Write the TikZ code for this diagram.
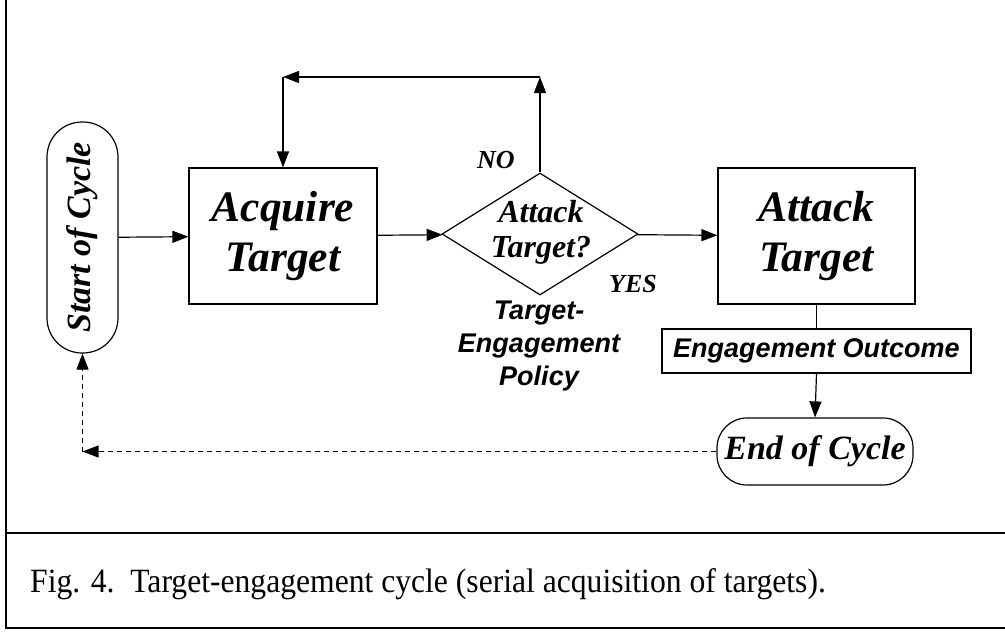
\documentclass[tikz,border=0pt]{standalone}
\usepackage{graphicx}
\usepackage{fontspec}
\setmainfont{Liberation Serif}
\setsansfont{Liberation Sans}
\usetikzlibrary{shapes.geometric,arrows.meta,positioning}
\tikzset{
	arr/.style={-{Triangle[length=16pt,width=12pt]}, line width=1.2pt},
	dashline/.style={arr, dash pattern=on 5pt off 4pt},
	stepbox/.style={draw, line width=1.2pt, inner sep=0pt, align=center, minimum height=136pt,
		font=\fontsize{43.5}{50}\selectfont\bfseries\itshape},
	capsule/.style={draw, line width=1.2pt, inner sep=0pt, rounded corners=#1,
		font=\fontsize{34}{38}\selectfont\bfseries\itshape},
	tagtext/.style={font=\fontsize{26}{29}\selectfont\bfseries\itshape},
	policytext/.style={align=center, inner sep=0pt,
		font=\fontsize{27}{33}\selectfont\sffamily\bfseries\itshape}
}
\newcommand\captiontext{Fig. 4.~~Target-engagement cycle (serial acquisition of targets).}

\begin{document}
\begin{tikzpicture}[x=1pt, y=-1pt]

			\useasboundingbox (0,0) rectangle (1005,632);

			% frame round the figure and its caption
			\begin{scope}[line width=2pt]
			\draw (6,0) -- (6,628) -- (1005,628);
			\draw (6,533) -- (1005,533);
			\end{scope}

			% the cycle
			\node[capsule=35pt, minimum width=71pt, minimum height=231pt] (start) at (82.5,237.5) {};
			\node[rotate=90, inner sep=0pt, font=\fontsize{34}{38}\selectfont\bfseries\itshape] (starttxt) at (start.center) {Start of Cycle};
			\node[stepbox, minimum width=188pt] (acq) at (283,236) {Acquire\\Target};
			\node[diamond, draw, line width=1.2pt, inner sep=0pt, minimum width=196pt, minimum height=122pt] (dec) at (540,234) {};
			\node[align=center, inner sep=0pt, font=\fontsize{32}{35}\selectfont\bfseries\itshape] (dectxt) at (541,232) {Attack\\Target?};
			\node[stepbox, minimum width=197pt] (att) at (816.5,236) {Attack\\Target};
			\node[draw, line width=1.2pt, minimum width=309pt, minimum height=44pt, inner sep=0pt,
				font=\fontsize{27}{30}\selectfont\sffamily\bfseries\itshape] (out) at (816.5,351) {Engagement Outcome};
			\node[capsule=30pt, minimum width=196pt, minimum height=67pt] (end) at (815,451.5) {End of Cycle};

			% labels
			\node[tagtext] (no) at (496,160) {NO};
			\node[tagtext] (yes) at (633,284) {YES};
			\node[policytext] (policy) at (539,346) {Target-\\Engagement\\Policy};

			% connectors
			\coordinate (up) at (dec.north |- 0,77);
			\coordinate (back) at (acq.north |- 0,77);
			\coordinate (low) at (start.south |- end.west);

			\draw[arr] (start) -- (acq);
			\draw[arr] (acq) -- (dec);
			\draw[arr] (dec) -- (att);
			\draw[arr] (dec.north) -- (up);
			\draw[arr] (up) -- (back);
			\draw[arr] (back) -- (acq.north);
			\draw[line width=1.2pt] (att.south) -- (out.north);
			\draw[arr] (out.south) -- (end.north);
			\draw[dashline] (end.west) -- (low);
			\draw[dashline] (low) -- (start.south);

			% caption
			\node[anchor=base west, inner sep=0pt, font=\fontsize{34}{36}\selectfont] (caption) at (30,592) {\scalebox{0.93}[1]{\captiontext}};

\end{tikzpicture}
\end{document}
